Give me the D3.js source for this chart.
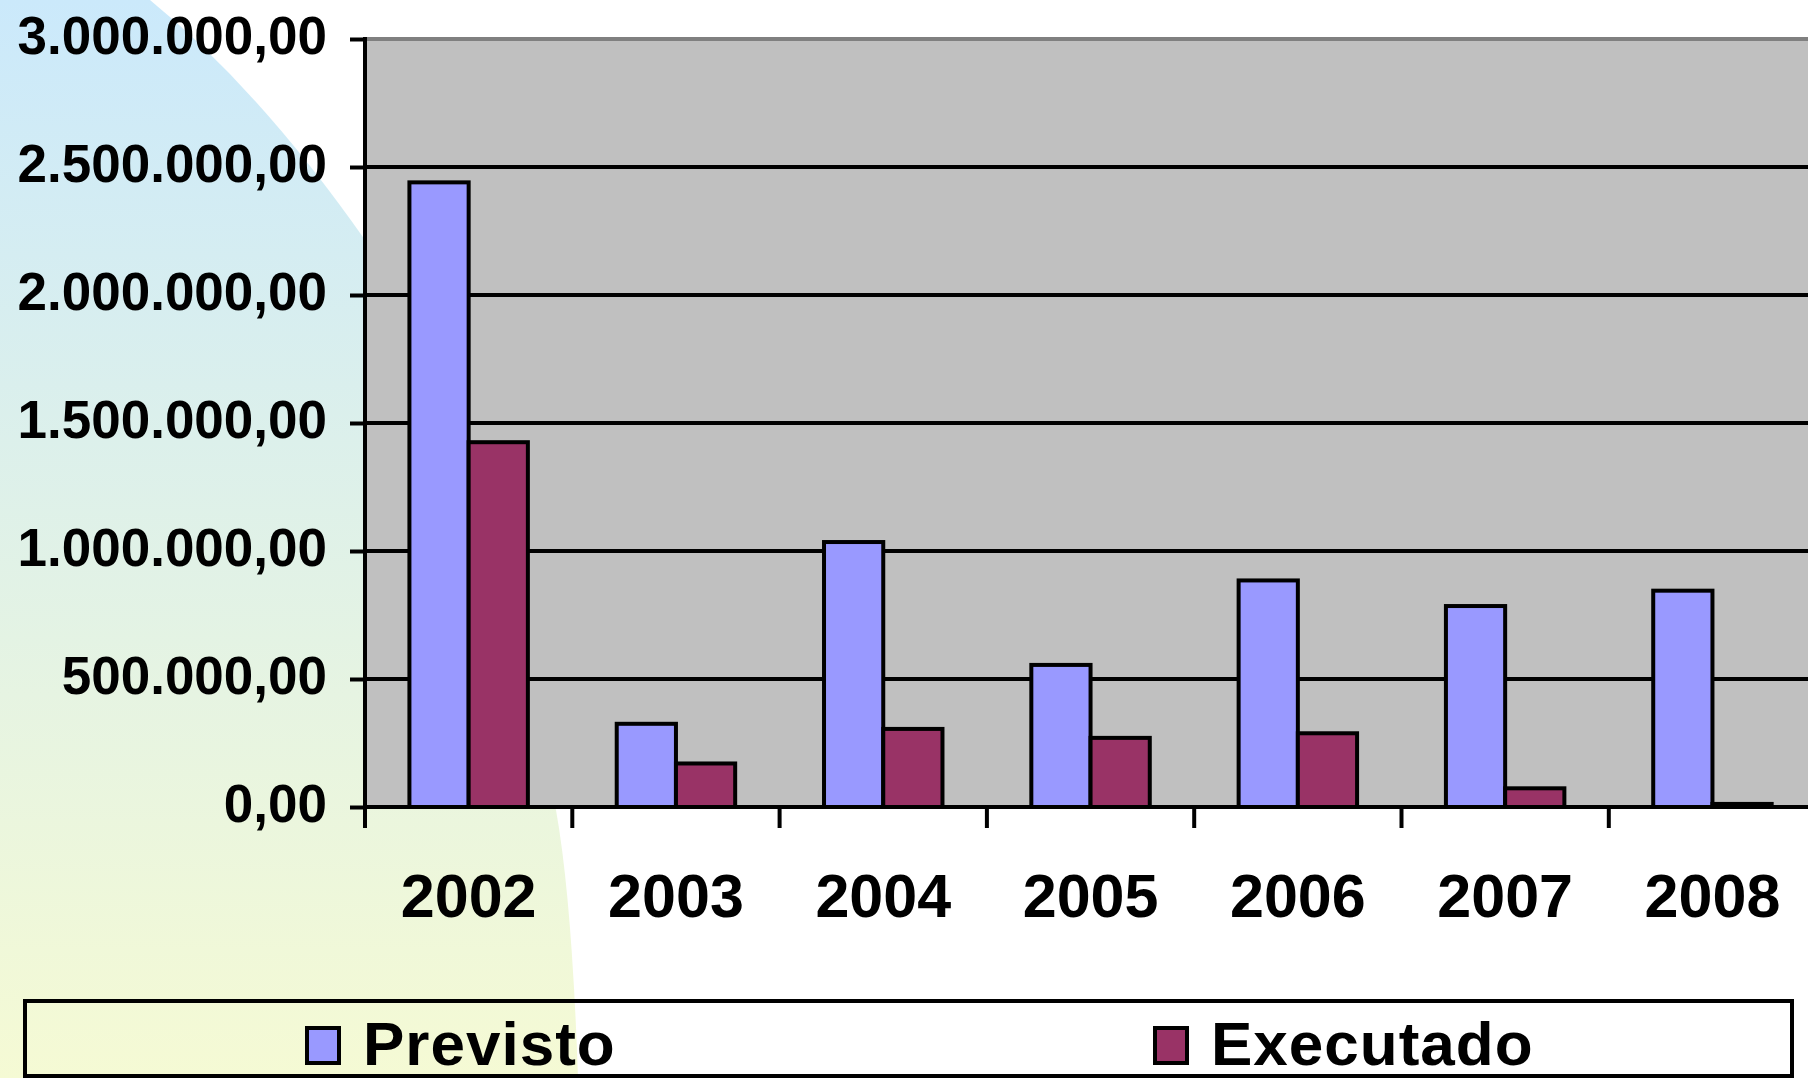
<!DOCTYPE html>
<html>
<head>
<meta charset="utf-8">
<script src="https://cdn.jsdelivr.net/npm/d3@7"></script>
<style>
  html, body { margin: 0; padding: 0; background: #ffffff; overflow: hidden; }
  svg { display: block; font-family: "Liberation Sans", Arial, sans-serif; font-weight: bold; }
</style>
</head>
<body>
<svg id="chart" width="1808" height="1078"></svg>
<script>
// chart data
var years = ["2002", "2003", "2004", "2005", "2006", "2007", "2008"];
var previsto = [2440000, 325000, 1035000, 555000, 885000, 785000, 845000];
var executado = [1425000, 170000, 305000, 270000, 288000, 73000, 12000];
var seriesNames = ["Previsto", "Executado"];
var seriesColors = ["#9999ff", "#993366"];
var yTicks = [0, 500000, 1000000, 1500000, 2000000, 2500000, 3000000];

var width = 1808, height = 1078;
var svg = d3.select("#chart");

// pt-BR style numbers: 3.000.000,00
var locale = d3.formatLocale({ decimal: ",", thousands: ".", grouping: [3], currency: ["R$", ""] });
var fmt = locale.format(",.2f");

// background decoration (blue -> pale yellow swoosh on the left)
var defs = svg.append("defs");
var grad = defs.append("linearGradient")
    .attr("id", "bgGrad").attr("x1", 0).attr("y1", 0).attr("x2", 0).attr("y2", 1);
grad.append("stop").attr("offset", "0%").attr("stop-color", "#cbe9fb");
grad.append("stop").attr("offset", "100%").attr("stop-color", "#f5fad4");

svg.append("path")
    .attr("d", "M0,0 L150,0 Q260,90 365,240 L556,810 Q572,900 578,1078 L0,1078 Z")
    .attr("fill", "url(#bgGrad)");

// scales
var plot = { left: 365, top: 39, bottom: 807 };
var step = 207.3;
var x = d3.scaleBand()
    .domain(years)
    .range([plot.left, plot.left + step * years.length])
    .paddingInner(0).paddingOuter(0);

var xSeries = d3.scaleBand()
    .domain(seriesNames)
    .range([0, x.bandwidth()])
    .paddingInner(0).paddingOuter(0.75);

var y = d3.scaleLinear()
    .domain([0, 3000000])
    .range([plot.bottom, plot.top]);

// plot area
svg.append("rect")
    .attr("x", plot.left).attr("y", plot.top)
    .attr("width", step * years.length + 20)
    .attr("height", plot.bottom - plot.top)
    .attr("fill", "#c0c0c0");

// gridlines (the top one is the grey plot border)
svg.append("g").selectAll("line")
    .data(yTicks.filter(function (d) { return d > 0 && d < 3000000; }))
    .enter().append("line")
    .attr("x1", plot.left).attr("x2", width)
    .attr("y1", function (d) { return y(d); })
    .attr("y2", function (d) { return y(d); })
    .attr("stroke", "#000").attr("stroke-width", 4);

svg.append("line")
    .attr("x1", plot.left).attr("x2", width)
    .attr("y1", y(3000000)).attr("y2", y(3000000))
    .attr("stroke", "#808080").attr("stroke-width", 4);

// bars
var rows = years.map(function (yr, i) {
  return { year: yr, values: [previsto[i], executado[i]] };
});

var groups = svg.append("g").selectAll("g")
    .data(rows)
    .enter().append("g")
    .attr("transform", function (d) { return "translate(" + x(d.year) + ",0)"; });

groups.selectAll("rect")
    .data(function (d) {
      return d.values.map(function (v, j) { return { name: seriesNames[j], value: v, color: seriesColors[j] }; });
    })
    .enter().append("rect")
    .attr("x", function (d) { return xSeries(d.name); })
    .attr("y", function (d) { return y(d.value); })
    .attr("width", xSeries.bandwidth())
    .attr("height", function (d) { return y(0) - y(d.value); })
    .attr("fill", function (d) { return d.color; })
    .attr("stroke", "#000").attr("stroke-width", 4);

// y axis
var yAxis = svg.append("g")
    .attr("transform", "translate(" + plot.left + ",0)")
    .call(d3.axisLeft(y).tickValues(yTicks).tickFormat(fmt).tickSize(15).tickPadding(23));
yAxis.select(".domain").attr("stroke", "#000").attr("stroke-width", 4)
    .attr("d", "M0," + (plot.top - 2) + "V" + (plot.bottom + 2));
yAxis.selectAll(".tick line").attr("stroke", "#000").attr("stroke-width", 4);
yAxis.selectAll(".tick text")
    .attr("fill", "#000")
    .attr("font-size", "53px")
    .attr("font-weight", "bold")
    .attr("font-family", "'Liberation Sans', Arial, sans-serif")
    .attr("dy", "0.28em");

// x axis: line, boundary ticks, centred labels
svg.append("line")
    .attr("x1", plot.left - 2).attr("x2", width)
    .attr("y1", y(0)).attr("y2", y(0))
    .attr("stroke", "#000").attr("stroke-width", 4);

svg.append("g").selectAll("line")
    .data(years)
    .enter().append("line")
    .attr("x1", function (d) { return x(d); })
    .attr("x2", function (d) { return x(d); })
    .attr("y1", y(0)).attr("y2", y(0) + 21)
    .attr("stroke", "#000").attr("stroke-width", 4);

var xAxis = svg.append("g")
    .attr("transform", "translate(0," + y(0) + ")")
    .call(d3.axisBottom(x).tickSize(0).tickPadding(0));
xAxis.select(".domain").remove();
xAxis.selectAll(".tick text")
    .attr("fill", "#000")
    .attr("font-size", "61px")
    .attr("font-weight", "bold")
    .attr("font-family", "'Liberation Sans', Arial, sans-serif")
    .attr("dy", null)
    .attr("y", 110);

// legend
svg.append("rect")
    .attr("x", 25).attr("y", 1001)
    .attr("width", 1767).attr("height", 75)
    .attr("fill", "none").attr("stroke", "#000").attr("stroke-width", 4);

var legendX = [307, 1155];
var legend = svg.append("g").selectAll("g")
    .data(seriesNames)
    .enter().append("g")
    .attr("transform", function (d, i) { return "translate(" + legendX[i] + ",1028)"; });

legend.append("rect")
    .attr("width", 32).attr("height", 35)
    .attr("fill", function (d, i) { return seriesColors[i]; })
    .attr("stroke", "#000").attr("stroke-width", 4);

legend.append("text")
    .attr("x", 56).attr("y", 37)
    .attr("font-size", "62px")
    .attr("letter-spacing", "1px")
    .attr("fill", "#000")
    .text(function (d) { return d; });
</script>
</body>
</html>
